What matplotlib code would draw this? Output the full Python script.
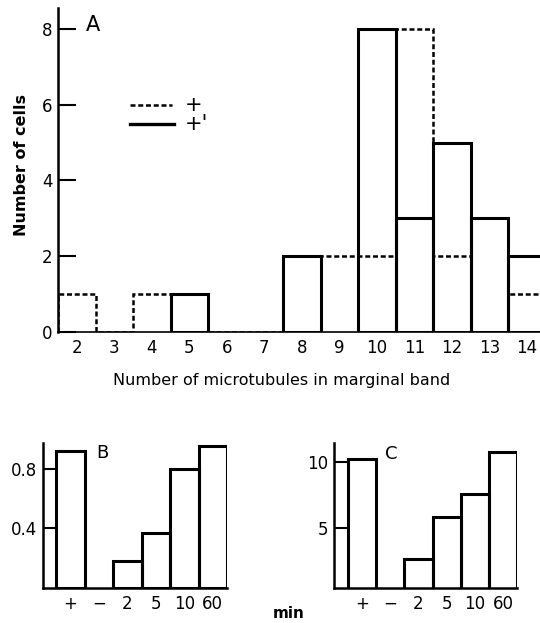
import matplotlib
matplotlib.use("Agg")
import matplotlib.pyplot as plt
import numpy as np

plt.rcParams['font.family'] = ['DejaVu Sans']

# ---- Panel A data ----
mt_bins = [2, 3, 4, 5, 6, 7, 8, 9, 10, 11, 12, 13, 14]
cells_plus = [1, 0, 1, 0, 0, 0, 2, 2, 2, 8, 2, 0, 1]        # dashed, "+"
cells_plus_prime = [0, 0, 0, 1, 0, 0, 2, 0, 8, 3, 5, 3, 2]  # solid, "+'"
a_yticks = [0, 2, 4, 6, 8]

# ---- Panel B / C data ----
time_labels = ['+', '\u2212', '2', '5', '10', '60']
b_values = [0.92, 0, 0.18, 0.37, 0.80, 0.95]
b_yticks = [0.4, 0.8]
c_values = [10.2, 0, 2.65, 5.8, 7.6, 10.75]
c_yticks = [5, 10]

W, H = 540, 623
fig = plt.figure(figsize=(W / 100, H / 100), dpi=100)

def fx(px):
    return px / W

def fy(py):
    return 1 - py / H

LW = 2.2
DASH = (0, (2.0, 1.1))
TICKFONT = dict(size=12)

# ---------------- Panel A ----------------
axA = fig.add_axes([fx(58), fy(332), (540 - 58) / W, (332 - 8) / H])
bins = np.array(mt_bins)
edges = np.concatenate([bins - 0.5, [bins[-1] + 0.5]])
axA.stairs(cells_plus, edges, baseline=0, color='black', lw=1.8,
           linestyle=DASH, zorder=2)
pp = np.array(cells_plus_prime)
mask = pp > 0
axA.bar(bins[mask], pp[mask], width=1.0, facecolor='none', edgecolor='black',
        lw=LW, zorder=3)
axA.set_xlim(1.5, 14.35)
axA.set_ylim(0, 8.55)
axA.set_xticks(mt_bins)
axA.set_xticklabels([str(b) for b in mt_bins], **TICKFONT)
axA.set_yticks(a_yticks)
axA.set_yticklabels([str(v) for v in a_yticks], **TICKFONT)
axA.tick_params(axis='x', length=0, pad=5)
axA.tick_params(axis='y', direction='in', length=13, width=1.5, pad=4)
for s in ['top', 'right']:
    axA.spines[s].set_visible(False)
axA.spines['left'].set_linewidth(1.8)
axA.spines['bottom'].set_linewidth(1.2)

# legend drawn inside panel A
axA.plot([3.42, 4.55], [6, 6], color='black', lw=1.8, linestyle=DASH)
axA.plot([3.42, 4.6], [5.5, 5.5], color='black', lw=2.4)
axA.text(4.87, 6.0, '+', ha='left', va='center', fontsize=15)
axA.text(4.87, 5.5, "+'", ha='left', va='center', fontsize=15)

fig.text(fx(93), fy(25), 'A', ha='center', va='center', fontsize=15)
fig.text(fx(22), fy(165), 'Number of cells', rotation=90, ha='center',
         va='center', fontsize=11.5, fontweight='bold')
fig.text(fx(282), fy(381), 'Number of microtubules in marginal band',
         ha='center', va='center', fontsize=11.5)

# ---------------- Panel B / C ----------------
def small_panel(left_px, right_px, xlo, ylim, values, yticks, yticklabels, letter, letter_px):
    ax = fig.add_axes([fx(left_px), fy(588), (right_px - left_px) / W, (588 - 443) / H])
    x = np.arange(len(values))
    v = np.array(values)
    m = v > 0
    ax.bar(x[m], v[m], width=1.0, facecolor='none', edgecolor='black', lw=LW)
    ax.set_xlim(xlo, len(values) - 0.5)
    ax.set_ylim(*ylim)
    ax.set_xticks(x)
    ax.set_xticklabels(time_labels, **TICKFONT)
    ax.set_yticks(yticks)
    ax.set_yticklabels(yticklabels, **TICKFONT)
    ax.tick_params(axis='x', length=0, pad=5)
    ax.tick_params(axis='y', direction='in', length=9, width=1.5, pad=4)
    for s in ['top', 'right']:
        ax.spines[s].set_visible(False)
    ax.spines['left'].set_linewidth(1.8)
    ax.spines['bottom'].set_linewidth(1.8)
    fig.text(fx(letter_px[0]), fy(letter_px[1]), letter, ha='center', va='center',
             fontsize=13)
    return ax

small_panel(43, 227, -0.96, (0, 0.973), b_values, b_yticks,
            [f'{t:.1f}' for t in b_yticks], 'B', (102, 453))
small_panel(334, 517, -1.0, (0.45, 11.44), c_values, c_yticks,
            [str(t) for t in c_yticks], 'C', (391, 454))

fig.text(fx(289), fy(614), 'min', ha='center', va='center', fontsize=11,
         fontweight='bold')

fig.savefig('out.png', dpi=100)
